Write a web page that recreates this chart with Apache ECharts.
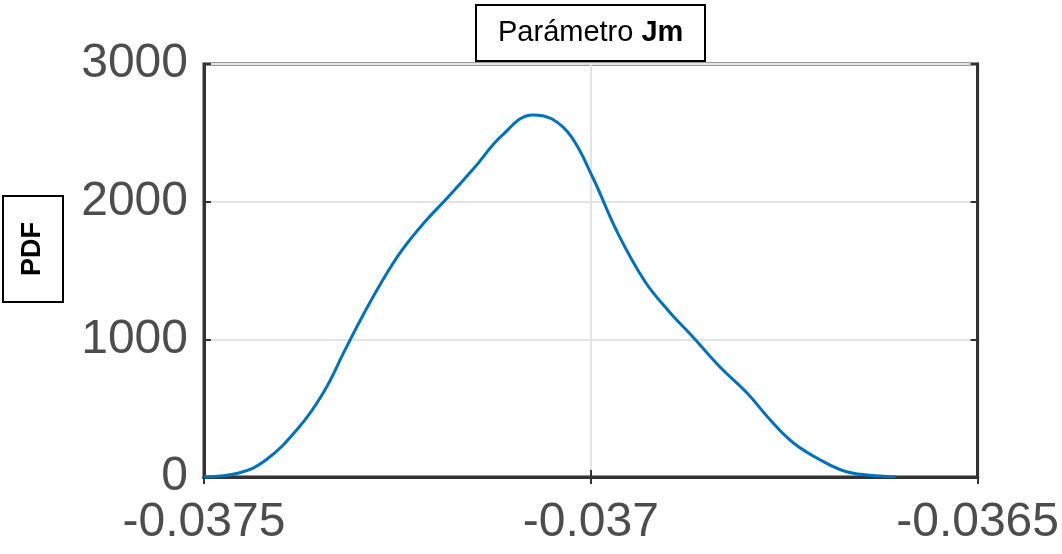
<!DOCTYPE html>
<html>
<head>
<meta charset="utf-8">
<script src="https://cdn.jsdelivr.net/npm/echarts@6/dist/echarts.min.js"></script>
<style>
  html, body { margin: 0; padding: 0; background: #fff; }
  #chart { width: 1062px; height: 554px; }
</style>
</head>
<body>
<div id="chart"></div>
<script>
// Jm parameter values (x) and estimated density (PDF)
const jmValues = [
  -0.0375, -0.037455, -0.03742, -0.037377, -0.037345, -0.037318, -0.037295,
  -0.03727, -0.037245, -0.037215, -0.037185, -0.037150, -0.037115,
  -0.037075, -0.037050, -0.037025, -0.036997, -0.036965, -0.036930,
  -0.036900, -0.036868, -0.036833, -0.036798, -0.036768, -0.036738, -0.036703,
  -0.036668, -0.036626, -0.036606
]
const pdfValues = [
  0, 29, 123, 363, 620, 920, 1170,
  1420, 1640, 1850, 2030, 2250, 2480,
  2630, 2600, 2470, 2170, 1770, 1420,
  1210, 1017, 799, 610, 414, 247, 123,
  36, 7, 0
]
const xTicks = [-0.0375, -0.037, -0.0365]
const yTicks = [0, 1000, 2000, 3000]

const chart = echarts.init(document.getElementById('chart'))

const axisLine = { lineStyle: { color: '#333', width: 3 } }
const gridLine = { show: true, lineStyle: { color: '#e3e3e3', width: 2 } }
const tickFont = { fontFamily: 'Liberation Sans, Arial', fontSize: 48, color: '#4d4d4d' }
const ticks = { show: true, inside: true, length: 7, lineStyle: { color: '#333', width: 2 } }

const xLabel = v => {
  const hit = xTicks.find(t => Math.abs(t - v) < 1e-9)
  return hit === undefined ? '' : String(hit)
}
const yLabel = v => {
  const hit = yTicks.find(t => Math.abs(t - v) < 1e-6)
  return hit === undefined ? '' : String(hit)
}

chart.setOption({
  animation: false,
  title: {
    text: '{n|Parámetro }{b|Jm}',
    left: 476,
    top: 3,
    padding: [14, 22, 14, 22],
    borderColor: '#000',
    borderWidth: 2,
    backgroundColor: '#fff',
    textStyle: {
      fontWeight: 'normal',
      rich: {
        n: { fontFamily: 'Liberation Sans, Arial', fontSize: 29, fontWeight: 'normal', color: '#000', lineHeight: 32 },
        b: { fontFamily: 'Liberation Sans, Arial', fontSize: 29, fontWeight: 'bold', color: '#000', lineHeight: 32 }
      }
    },
    z: 10
  },
  grid: {
    left: 204, right: 84, top: 64, bottom: 77,
    show: true, borderColor: '#333', borderWidth: 3
  },
  xAxis: [{
    type: 'value',
    min: -0.0375, max: -0.0365, interval: 0.0005,
    axisLine,
    axisTick: ticks,
    splitLine: gridLine,
    axisLabel: { ...tickFont, margin: 22, formatter: xLabel }
  }, {
    type: 'value', position: 'top',
    min: -0.0375, max: -0.0365, interval: 0.0005,
    axisLine,
    axisTick: ticks,
    splitLine: { show: false },
    axisLabel: { show: false }
  }],
  yAxis: [{
    type: 'value',
    min: 0, max: 3000, interval: 1000,
    axisLine: { show: true, ...axisLine },
    axisTick: ticks,
    splitLine: gridLine,
    axisLabel: { ...tickFont, margin: 16, formatter: yLabel }
  }, {
    type: 'value', position: 'right',
    min: 0, max: 3000, interval: 1000,
    axisLine: { show: true, ...axisLine },
    axisTick: ticks,
    splitLine: { show: false },
    axisLabel: { show: false }
  }],
  graphic: [{
    type: 'rect',
    shape: { x: 3, y: 196, width: 60, height: 106 },
    style: { fill: '#fff', stroke: '#000', lineWidth: 2 }
  }, {
    type: 'text',
    x: 33, y: 249,
    rotation: Math.PI / 2,
    style: {
      text: 'PDF',
      fill: '#000',
      font: 'bold 27px "Liberation Sans", Arial',
      align: 'center',
      verticalAlign: 'middle'
    }
  }],
  series: [{
    type: 'line',
    xAxisIndex: 0,
    yAxisIndex: 0,
    data: jmValues.map((x, i) => [x, pdfValues[i]]),
    smooth: 0.4,
    showSymbol: false,
    lineStyle: { color: '#0072BD', width: 3 },
    z: 5
  }]
})
</script>
</body>
</html>
